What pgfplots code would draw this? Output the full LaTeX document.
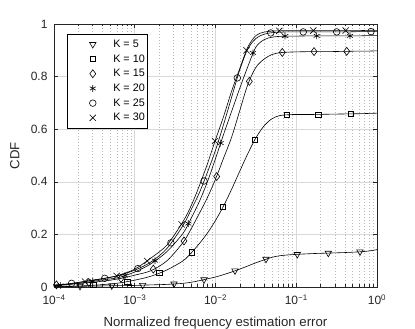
\documentclass[border=0pt]{standalone}
\usepackage{fontspec}
\setmainfont{Liberation Sans}
\usepackage{pgfplots}
\pgfplotsset{compat=1.18}
\usepackage{pgfplotstable}

% CDF curves
\pgfplotstableread{
x        k5    k10   k15   k20   k25   k30
1.000e-4 0.001 0.002 0.008 0.004 0.006 0.005
1.585e-4 0.002 0.003 0.011 0.010 0.013 0.012
2.512e-4 0.003 0.005 0.016 0.018 0.022 0.022
3.981e-4 0.004 0.009 0.022 0.027 0.031 0.032
6.310e-4 0.005 0.015 0.031 0.036 0.044 0.044
1.000e-3 0.006 0.026 0.045 0.057 0.064 0.068
1.585e-3 0.008 0.041 0.062 0.088 0.095 0.110
2.512e-3 0.010 0.065 0.100 0.135 0.147 0.160
3.981e-3 0.014 0.100 0.170 0.205 0.235 0.250
5.012e-3 0.018 0.130 0.222 0.262 0.295 0.310
6.310e-3 0.024 0.165 0.280 0.325 0.358 0.385
7.943e-3 0.031 0.205 0.340 0.400 0.436 0.468
1.000e-2 0.038 0.253 0.410 0.488 0.520 0.560
1.259e-2 0.047 0.308 0.490 0.580 0.618 0.648
1.585e-2 0.057 0.372 0.570 0.668 0.722 0.745
1.995e-2 0.068 0.440 0.670 0.755 0.825 0.830
2.512e-2 0.080 0.507 0.770 0.838 0.905 0.912
3.162e-2 0.092 0.567 0.835 0.912 0.945 0.956
3.981e-2 0.103 0.612 0.866 0.940 0.961 0.969
5.012e-2 0.113 0.640 0.884 0.950 0.967 0.973
6.310e-2 0.119 0.652 0.891 0.953 0.969 0.974
7.943e-2 0.122 0.655 0.893 0.954 0.970 0.975
1.000e-1 0.124 0.656 0.894 0.954 0.970 0.975
1.585e-1 0.127 0.656 0.895 0.955 0.970 0.975
2.512e-1 0.129 0.657 0.895 0.955 0.970 0.975
3.981e-1 0.131 0.658 0.896 0.955 0.970 0.975
6.310e-1 0.134 0.659 0.897 0.955 0.971 0.975
7.943e-1 0.137 0.660 0.897 0.956 0.971 0.976
1.000e0  0.142 0.661 0.898 0.956 0.971 0.976
}\curves

\begin{document}
\begin{tikzpicture}
\path[use as bounding box] (0,0) rectangle (415pt,329pt);
\begin{axis}[
    at={(54pt,42pt)}, anchor=south west,
    scale only axis, width=323pt, height=263pt,
    xmode=log, xmin=1e-4, xmax=1, ymin=0, ymax=1,
    xtick={1e-4,1e-3,1e-2,1e-1,1},
    xticklabels={10\textsuperscript{−4},10\textsuperscript{−3},10\textsuperscript{−2},10\textsuperscript{−1},10\textsuperscript{0}},
    ytick={0,0.2,0.4,0.6,0.8,1},
    yticklabels={0,0.2,0.4,0.6,0.8,1},
    tick align=inside,
    major tick length=4pt, minor tick length=2.5pt,
    axis line style={black!85, line width=0.5pt},
    every tick/.style={black!85, line width=0.5pt},
    tick label style={font=\fontsize{12}{12}\selectfont, text=black!85},
    yticklabel style={xshift=-3pt},
    xticklabel style={yshift=-4pt},
    xmajorgrids, xminorgrids, ymajorgrids,
    major grid style={gray!30, line width=0.5pt},
    minor grid style={gray!55, line width=0.5pt, dash pattern=on 0.8pt off 2.2pt},
    xlabel={Normalized frequency estimation error},
    ylabel={CDF},
    label style={font=\fontsize{13.2}{13.2}\selectfont, text=black!85},
    xlabel style={at={(axis description cs:0.5,-0.1502)}, anchor=base},
    ylabel style={at={(axis description cs:-0.1068,0.5)}, anchor=base},
    legend style={at={(axis description cs:0.0393,0.962)}, anchor=north west,
        draw=black, line width=0.5pt, fill=white, inner sep=2.75pt,
        font=\fontsize{10.8}{10.8}\selectfont,
        nodes={inner sep=0pt, minimum height=14.7pt, anchor=west}},
    legend cell align=left,
    legend image code/.code={\draw[#1] plot coordinates {(22.8pt,0pt)}; \path (0pt,0pt) (43pt,0pt);},
    every axis plot/.append style={black, line width=0.6pt},
]
% lines
\addplot[smooth, forget plot] table[x=x, y=k5] {\curves};
\addplot[smooth, forget plot] table[x=x, y=k10] {\curves};
\addplot[smooth, forget plot] table[x=x, y=k15] {\curves};
\addplot[smooth, forget plot] table[x=x, y=k20] {\curves};
\addplot[smooth, forget plot] table[x=x, y=k25] {\curves};
\addplot[smooth, forget plot] table[x=x, y=k30] {\curves};
% markers
\addplot[only marks, mark=triangle, mark size=3.7pt, mark options={rotate=180}] coordinates {
(2.099e-4,0.003) (5.19e-4,0.005) (1.253e-3,0.007) (3.062e-3,0.012) (7.21e-3,0.028)
(1.742e-2,0.062) (4.217e-2,0.106) (0.1030,0.124) (0.2495,0.129) (0.6152,0.134)};
\addlegendentry{K = 5}
\addplot[only marks, mark=square, mark size=2.6pt] coordinates {
(3.069e-4,0.007) (8.091e-4,0.021) (2.014e-3,0.053) (5.070e-3,0.132) (1.239e-2,0.304)
(3.083e-2,0.560) (7.621e-2,0.654) (0.1875,0.656) (0.4721,0.658)};
\addlegendentry{K = 10}
\addplot[only marks, mark=diamond, mark size=4pt] coordinates {
(1.072e-4,0.008) (2.692e-4,0.017) (6.761e-4,0.033) (1.698e-3,0.068) (4.074e-3,0.175)
(1.035e-2,0.420) (2.624e-2,0.782) (6.714e-2,0.892) (0.1660,0.895) (0.4217,0.896)};
\addlegendentry{K = 15}
\addplot[only marks, mark=asterisk, mark size=3.4pt] coordinates {
(1.202e-4,0.006) (3.020e-4,0.022) (7.568e-4,0.044) (1.782e-3,0.100) (4.603e-3,0.241)
(1.159e-2,0.547) (2.911e-2,0.890) (7.261e-2,0.954) (0.1791,0.955) (0.4634,0.955)};
\addlegendentry{K = 20}
\addplot[only marks, mark=o, mark size=3.3pt] coordinates {
(1.652e-4,0.014) (4.246e-4,0.033) (1.091e-3,0.070) (2.805e-3,0.168) (7.211e-3,0.403)
(1.862e-2,0.795) (4.831e-2,0.966) (0.1222,0.970) (0.3170,0.970) (0.8433,0.971)};
\addlegendentry{K = 25}
\addplot[only marks, mark=x, mark size=4.4pt] coordinates {
(2.421e-4,0.021) (5.970e-4,0.042) (1.429e-3,0.099) (3.811e-3,0.238) (9.863e-3,0.555)
(2.421e-2,0.900) (6.166e-2,0.974) (0.1626,0.975) (0.4093,0.975)};
\addlegendentry{K = 30}
\end{axis}
\end{tikzpicture}
\end{document}
